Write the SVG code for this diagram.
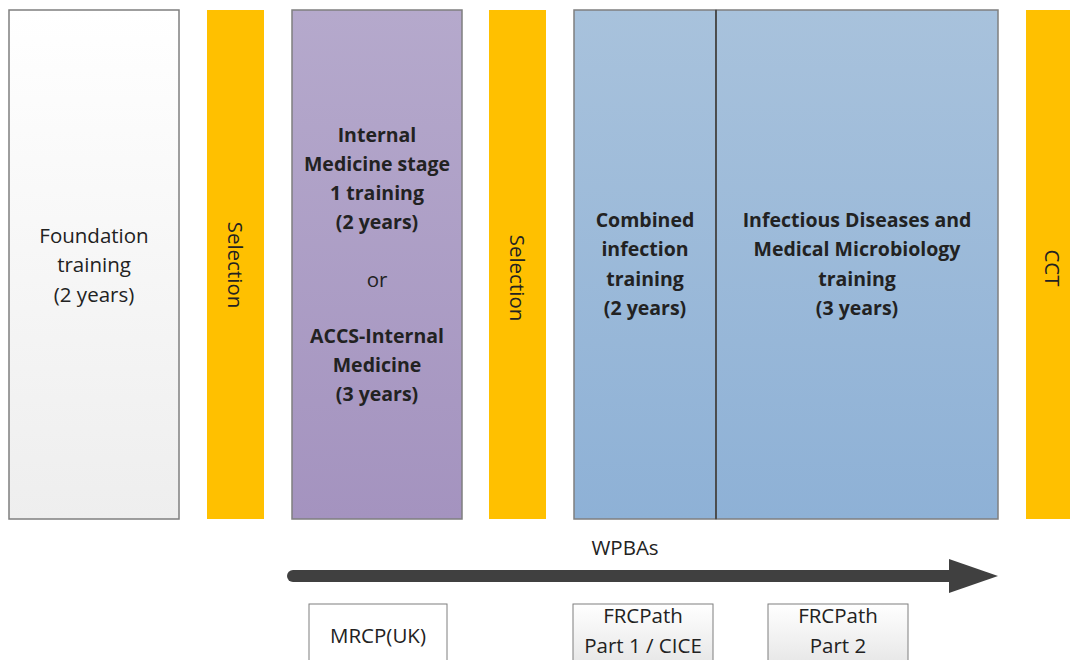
<svg xmlns="http://www.w3.org/2000/svg" width="1070" height="660" viewBox="0 0 1070 660">
<defs>
<linearGradient id="gWhite" x1="0" y1="0" x2="0" y2="1"><stop offset="0" stop-color="#ffffff"/><stop offset="1" stop-color="#eeeeee"/></linearGradient>
<linearGradient id="gPurple" x1="0" y1="0" x2="0" y2="1"><stop offset="0" stop-color="#b5a9cc"/><stop offset="1" stop-color="#a493bf"/></linearGradient>
<linearGradient id="gBlue" x1="0" y1="0" x2="0" y2="1"><stop offset="0" stop-color="#a8c2dc"/><stop offset="1" stop-color="#8eb1d6"/></linearGradient>
<linearGradient id="gExam" x1="0" y1="0" x2="0" y2="1"><stop offset="0" stop-color="#ffffff"/><stop offset="1" stop-color="#e6e6e6"/></linearGradient>
<style>
text{font-family:"Open Sans","Liberation Sans",sans-serif;fill:#222222;text-anchor:middle;font-size:20.5px}
.b{font-weight:bold;font-size:19.5px}
.box{stroke:#7f7f7f;stroke-width:1.5}
.sel{fill:#ffc000}
.exam{stroke:#7f7f7f;stroke-width:1}
</style>
</defs>
<g id="foundation">
<rect class="box" x="9" y="10" width="170" height="509" fill="url(#gWhite)"/>
<text x="94" y="243">Foundation</text>
<text x="94" y="272">training</text>
<text x="94" y="302">(2 years)</text>
</g>
<g id="selection1">
<rect class="sel" x="207" y="10" width="57" height="509"/>
<text transform="translate(228,265) rotate(90)">Selection</text>
</g>
<g id="internal-medicine">
<rect class="box" x="292" y="10" width="170" height="509" fill="url(#gPurple)" stroke="#5f5f6f"/>
<text class="b" x="377" y="142">Internal</text>
<text class="b" x="377" y="171">Medicine stage</text>
<text class="b" x="377" y="200">1 training</text>
<text class="b" x="377" y="229">(2 years)</text>
<text x="377" y="287">or</text>
<text class="b" x="377" y="343">ACCS-Internal</text>
<text class="b" x="377" y="372">Medicine</text>
<text class="b" x="377" y="401">(3 years)</text>
</g>
<g id="selection2">
<rect class="sel" x="489" y="10" width="57" height="509"/>
<text transform="translate(510,278) rotate(90)">Selection</text>
</g>
<g id="combined-infection">
<rect class="box" x="574" y="10" width="142" height="509" fill="url(#gBlue)"/>
<text class="b" x="645" y="227">Combined</text>
<text class="b" x="645" y="256">infection</text>
<text class="b" x="645" y="286">training</text>
<text class="b" x="645" y="315">(2 years)</text>
</g>
<g id="id-mm-training">
<rect class="box" x="716" y="10" width="282" height="509" fill="url(#gBlue)"/>
<line x1="716" y1="10" x2="716" y2="519" stroke="#3a3a3a" stroke-width="1.5"/>
<text class="b" x="857" y="227">Infectious Diseases and</text>
<text class="b" x="857" y="256">Medical Microbiology</text>
<text class="b" x="857" y="286">training</text>
<text class="b" x="857" y="315">(3 years)</text>
</g>
<g id="cct">
<rect class="sel" x="1026" y="10" width="50" height="509"/>
<text transform="translate(1045,268) rotate(90)">CCT</text>
</g>
<g id="connectors">
<line x1="293" y1="576" x2="952" y2="576" stroke="#404040" stroke-width="12" stroke-linecap="round"/>
<polygon points="949,559 998,576 949,593" fill="#404040"/>
<text x="625" y="555">WPBAs</text>
</g>
<g id="mrcp">
<rect class="exam" x="309" y="604" width="138" height="62" fill="#ffffff"/>
<text x="378" y="643">MRCP(UK)</text>
</g>
<g id="frcpath1">
<rect class="exam" x="573" y="604" width="140" height="62" fill="url(#gExam)"/>
<text x="643" y="623">FRCPath</text>
<text x="643" y="653">Part 1 / CICE</text>
</g>
<g id="frcpath2">
<rect class="exam" x="768" y="604" width="140" height="62" fill="url(#gExam)"/>
<text x="838" y="623">FRCPath</text>
<text x="838" y="653">Part 2</text>
</g>
</svg>
